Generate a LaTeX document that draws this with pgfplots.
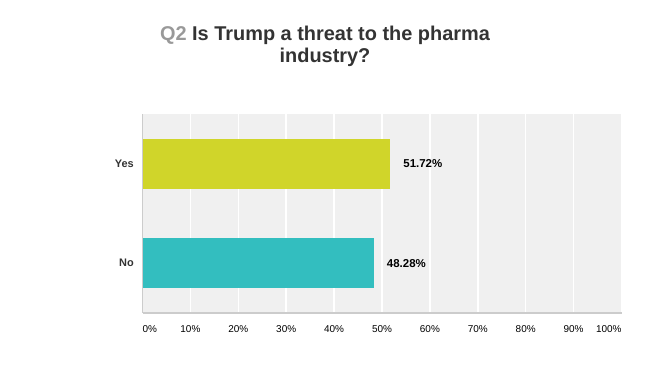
\documentclass[border=0pt]{standalone}
\usepackage{pgfplots}
\pgfplotsset{compat=1.18}
\usepackage{fontspec}
\setmainfont{Liberation Sans}
\definecolor{yescol}{HTML}{D0D52A}
\definecolor{nocol}{HTML}{33BEBF}
\definecolor{bgcol}{HTML}{F0F0F0}
\definecolor{axcol}{HTML}{CCCCCC}
\definecolor{titlegray}{HTML}{999999}
\definecolor{titledark}{HTML}{333333}
\begin{document}
\begin{tikzpicture}
\path (0,0) rectangle (650bp,387bp);
\begin{axis}[
  at={(142.5bp,74bp)}, anchor=south west,
  scale only axis, width=479bp, height=199bp,
  xbar, bar shift=0pt, bar width=50bp,
  xmin=0, xmax=100, ymin=-0.5, ymax=1.5,
  axis background/.style={fill=bgcol},
  axis lines*=left,
  x axis line style={draw=axcol, line width=2bp},
  y axis line style={draw=axcol, line width=1.2bp},
  xmajorgrids, grid style={white, line width=1.5bp},
  major tick length=0pt,
  /pgf/number format/assume math mode=true,
  xtick={0,10,...,100},
  xticklabels={\makebox[0pt][l]{0\%},10\%,20\%,30\%,40\%,50\%,60\%,70\%,80\%,90\%,\makebox[0pt][r]{100\%}},
  xticklabel style={font=\fontsize{10}{12}\selectfont, text=black, inner sep=0pt, yshift=-12bp},
  ytick={0,1}, yticklabels={No,Yes},
  yticklabel style={font=\fontsize{11}{13}\selectfont\bfseries, text=titledark, anchor=east, inner sep=0pt, xshift=-8.5bp},
  point meta=x,
  nodes near coords={\pgfmathprintnumber[fixed,precision=2,fixed zerofill,assume math mode=true]{\pgfplotspointmeta}\%},
  nodes near coords style={anchor=west, inner sep=0pt, xshift=13bp, font=\fontsize{11.5}{13}\selectfont\bfseries, text=black},
  clip=false,
]
\addplot[draw=none, fill=nocol] coordinates {(48.28,0)};
\addplot[draw=none, fill=yescol] coordinates {(51.72,1)};
\end{axis}
\node[anchor=base, font=\fontsize{20}{22}\selectfont\bfseries, text=titledark] at (325bp,346bp) {{\color{titlegray}Q2} Is Trump a threat to the pharma};
\node[anchor=base, font=\fontsize{20}{22}\selectfont\bfseries, text=titledark] at (325bp,324bp) {industry?};
\end{tikzpicture}
\end{document}
